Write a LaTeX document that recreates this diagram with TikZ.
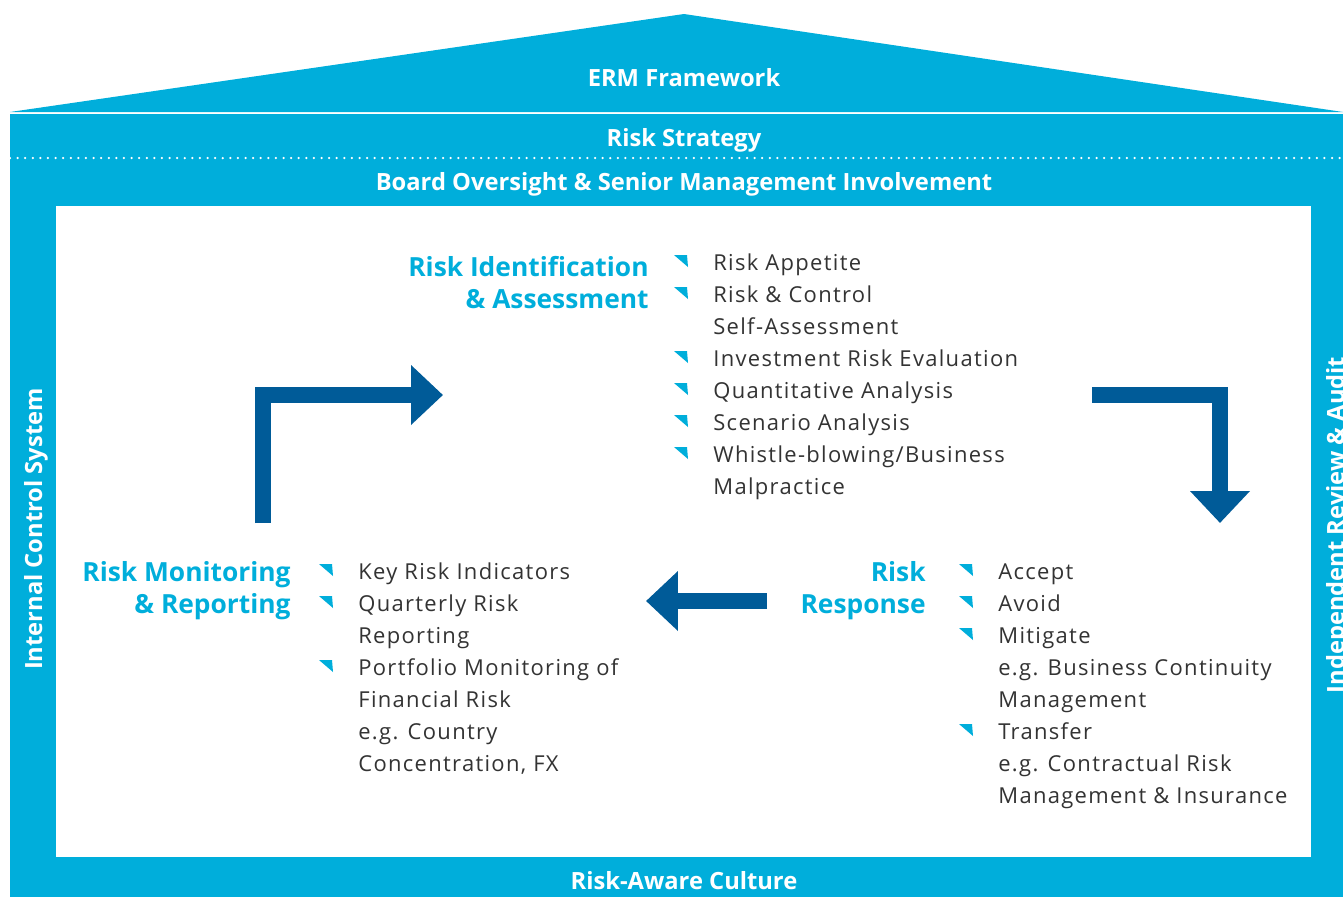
\documentclass[tikz,border=0pt]{standalone}
\usepackage{fontspec}
\setmainfont{Open Sans}
\newfontfamily\listfont[LetterSpace=6]{Open Sans}
\usetikzlibrary{arrows.meta}

\begin{document}
\begin{tikzpicture}[
  x=0.02cm, y=-0.02cm,
  every node/.style={inner sep=0pt},
  band/.style={text=white, font=\fontsize{13.5}{16}\selectfont\bfseries},
  stage/.style={text=ermcyan, font=\fontsize{15}{18.2}\selectfont\bfseries, align=right},
  item/.style={text=ermtext, font=\listfont\fontsize{12.5}{14}\selectfont},
  flow/.style={ermnavy, line width=0.32cm, -{Triangle[length=0.64cm, width=1.16cm]}},
]

\definecolor{ermcyan}{HTML}{00AEDB}
\definecolor{ermnavy}{HTML}{005B98}
\definecolor{ermtext}{HTML}{333333}

\def\dy{32}    % line pitch of the lists

\useasboundingbox (0,0) rectangle (1343,897);

% roof, walls and the room inside
\fill[ermcyan] (10,112) -- (684,14) -- (1343,112) -- cycle;
\fill[ermcyan] (10,114) rectangle (1343,897);
\fill[white] (56,206) rectangle (1311,857);
\draw[white, line width=0.05cm, line cap=round, dash pattern=on 0pt off 0.152cm]
  (10,158) -- (1343,158);

% bands
\node[band, anchor=base] (erm) at (684,86) {ERM Framework};
\node[band, anchor=base] (strategy) at (684,146) {Risk Strategy};
\node[band, anchor=base] (board) at (684,190) {Board Oversight \& Senior Management Involvement};
\node[band, anchor=base] (culture) at (684,889) {Risk-Aware Culture};
\node[band, anchor=base, rotate=90] (control) at (42,529) {Internal Control System};
\node[band, anchor=base, rotate=90] (audit) at (1344,525) {Independent Review \& Audit};

% stage titles (base = last line)
\node[stage, anchor=base east] (identify) at (649,308) {Risk Identification\\\& Assessment};
\node[stage, anchor=base east] (respond) at (926,613) {Risk\\Response};
\node[stage, anchor=base east] (monitor) at (291,613) {Risk Monitoring\\\& Reporting};

\def\identrows{%
  {Risk Appetite}/1,
  {Risk \& Control}/1,
  {Self-Assessment}/0,
  {Investment Risk Evaluation}/1,
  {Quantitative Analysis}/1,
  {Scenario Analysis}/1,
  {Whistle-blowing/Business}/1,
  {Malpractice}/0%
}
\def\resprows{%
  {Accept}/1,
  {Avoid}/1,
  {Mitigate}/1,
  {e.g. Business Continuity}/0,
  {Management}/0,
  {Transfer}/1,
  {e.g. Contractual Risk}/0,
  {Management \& Insurance}/0%
}
\def\monrows{%
  {Key Risk Indicators}/1,
  {Quarterly Risk}/1,
  {Reporting}/0,
  {Portfolio Monitoring of}/1,
  {Financial Risk}/0,
  {e.g. Country}/0,
  {Concentration, FX}/0%
}

% lists with their bullets
\foreach \name/\state [count=\i from 0] in \identrows {
  \pgfmathsetmacro{\y}{270+\i*\dy}
  \node[item, anchor=base west] (identify-\i) at (713,\y) {\name};
  \ifnum\state=1
    \fill[ermcyan] (674,\y-15) -- (687,\y-15) -- (688,\y-3) -- cycle;
  \fi
}
\foreach \name/\state [count=\i from 0] in \resprows {
  \pgfmathsetmacro{\y}{579+\i*\dy}
  \node[item, anchor=base west] (respond-\i) at (998,\y) {\name};
  \ifnum\state=1
    \fill[ermcyan] (959,\y-15) -- (972,\y-15) -- (973,\y-3) -- cycle;
  \fi
}
\foreach \name/\state [count=\i from 0] in \monrows {
  \pgfmathsetmacro{\y}{579+\i*\dy}
  \node[item, anchor=base west] (monitor-\i) at (358,\y) {\name};
  \ifnum\state=1
    \fill[ermcyan] (319,\y-15) -- (332,\y-15) -- (333,\y-3) -- cycle;
  \fi
}

% the cycle
\coordinate (monitor-up) at (263,523);
\coordinate (identify-in) at (443,395);
\coordinate (identify-out) at (1092,395);
\coordinate (respond-in) at (1220,523);
\coordinate (respond-out) at (767,601);
\coordinate (monitor-in) at (646,601);
\draw[flow] (monitor-up) |- (identify-in);
\draw[flow] (identify-out) -| (respond-in);
\draw[flow] (respond-out) -- (monitor-in);

\end{tikzpicture}
\end{document}
